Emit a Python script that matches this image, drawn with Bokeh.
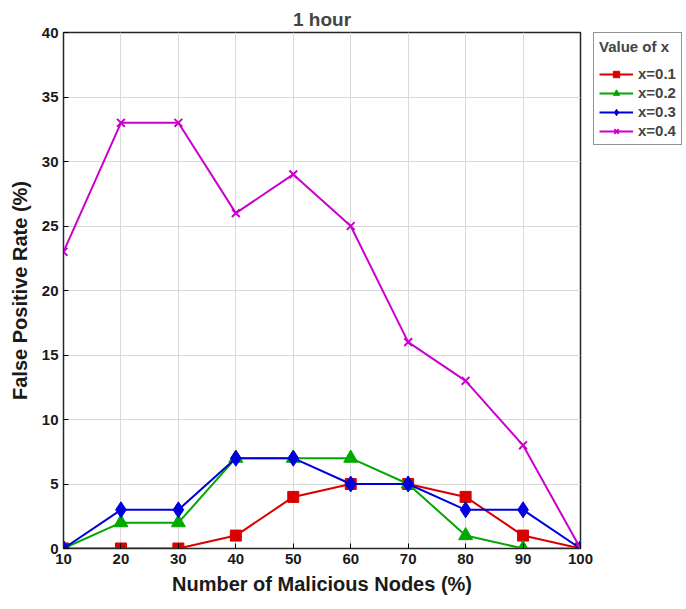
from bokeh.plotting import figure
from bokeh.models import Legend, LegendItem, Range1d, FixedTicker
from bokeh.embed import file_html
from bokeh.resources import INLINE

nodes = [10, 20, 30, 40, 50, 60, 70, 80, 90, 100]
x01 = [0, 0, 0, 1, 4, 5, 5, 4, 1, 0]
x02 = [0, 2, 2, 7, 7, 7, 5, 1, 0, 0]
x03 = [0, 3, 3, 7, 7, 5, 5, 3, 3, 0]
x04 = [23, 33, 33, 26, 29, 25, 16, 13, 8, 0]
yticks = [0, 5, 10, 15, 20, 25, 30, 35, 40]
labels = ["x=0.1", "x=0.2", "x=0.3", "x=0.4"]
colors = ["#d80000", "#00a800", "#0000dd", "#cc00cc"]

FONT = "Liberation Sans"

p = figure(frame_width=517, frame_height=516, output_backend="svg", toolbar_location=None,
           x_range=Range1d(10, 100), y_range=Range1d(0, 40),
           min_border_left=63, min_border_top=32, min_border_right=0, min_border_bottom=45)

p.title.text = "1 hour"
p.title.align = "center"
p.title.text_font = FONT
p.title.text_font_size = "19px"
p.title.text_font_style = "bold"
p.title.offset = 0
p.title.standoff = 6

p.outline_line_color = "#262626"
p.outline_line_width = 1.5
p.background_fill_color = "white"

p.xaxis.ticker = FixedTicker(ticks=nodes)
p.yaxis.ticker = FixedTicker(ticks=yticks)
for ax in (p.xaxis[0], p.yaxis[0]):
    ax.axis_line_color = "#262626"
    ax.major_tick_in = 5
    ax.major_tick_out = 0
    ax.minor_tick_line_color = None
    ax.major_label_text_font = FONT
    ax.major_label_text_font_style = "bold"
    ax.major_label_text_font_size = "15px"
    ax.major_label_text_color = "#1a1a1a"
    ax.axis_label_text_font = FONT
    ax.axis_label_text_font_style = "bold"
    ax.axis_label_text_font_size = "20px"
    ax.axis_label_text_color = "#1a1a1a"
p.xaxis.axis_label = "Number of Malicious Nodes (%)"
p.yaxis.axis_label = "False Positive Rate (%)"
p.xaxis.axis_label_standoff = 6
p.yaxis.axis_label_standoff = 8
p.xaxis.major_label_standoff = 5
p.yaxis.major_label_standoff = 5

p.grid.grid_line_color = "#d9d9d9"
p.grid.grid_line_width = 1

items = []
series = [x01, x02, x03, x04]
markers = ["square", "triangle", "diamond", "x"]
sizes = [11, 14, 16, 11]
for ys, lab, col, mk, sz in zip(series, labels, colors, markers, sizes):
    r1 = p.line(nodes, ys, line_color=col, line_width=2)
    if mk == "x":
        r2 = p.scatter(nodes, ys, marker=mk, size=sz, line_color=col, line_width=2)
    else:
        r2 = p.scatter(nodes, ys, marker=mk, size=sz, fill_color=col, line_color=col)
    items.append(LegendItem(label=lab, renderers=[r1, r2]))

legend = Legend(items=items, location=(13, 403))
legend.title = "Value of x"
legend.title_text_font = FONT
legend.title_text_font_style = "bold"
legend.title_text_font_size = "15px"
legend.label_text_font = FONT
legend.label_text_font_style = "bold"
legend.label_text_font_size = "15px"
legend.border_line_color = "#262626"
legend.border_line_width = 1
legend.glyph_width = 34
legend.glyph_height = 16
legend.label_height = 16
legend.spacing = 2
legend.padding = 5
legend.margin = 0
legend.title_standoff = 10
p.add_layout(legend, "right")

open("out.html", "w").write(file_html(p, INLINE))
